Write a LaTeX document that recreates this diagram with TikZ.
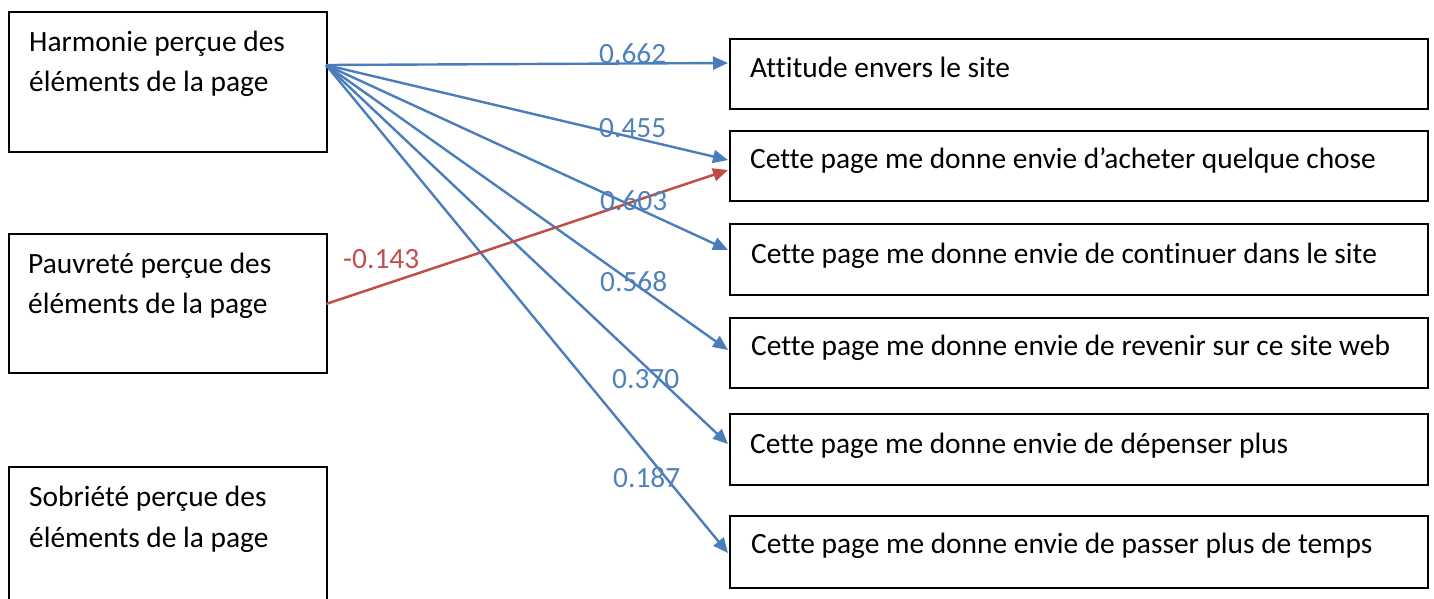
\documentclass[tikz,border=0pt]{standalone}
\usepackage{fontspec}
\setmainfont{Carlito}[Ligatures=NoCommon, Contextuals=NoAlternate, RawFeature={-liga,-clig,-calt}]
\usetikzlibrary{arrows.meta}
\definecolor{lblue}{HTML}{4A7EBB}
\definecolor{tblue}{HTML}{4F81BD}
\definecolor{lred}{HTML}{BE4B48}
\definecolor{tred}{HTML}{C0504D}
\tikzset{
  box/.style={draw=black, line width=2pt, anchor=north west, inner sep=0pt},
  txt/.style={anchor=base west, inner sep=0pt, font=\fontsize{29.4}{40}\selectfont},
  coef/.style={anchor=base west, inner sep=0pt, font=\fontsize{29.4}{40}\selectfont, text=tblue},
  link/.style={draw=lblue, line width=2.4pt, -{Triangle[length=15pt,width=13pt]}},
  rlink/.style={draw=lred, line width=2.4pt, -{Triangle[length=15pt,width=13pt]}},
}
\begin{document}
\begin{tikzpicture}[x=1pt,y=-1pt]
\useasboundingbox (0,0) rectangle (1434,598);
\begin{scope}
\clip (0,0) rectangle (1434,598);
% left boxes
\node[box, minimum width=318pt, minimum height=140pt] (h) at (8,11) {};
\node[box, minimum width=318pt, minimum height=139pt] (p) at (8,233) {};
\node[box, minimum width=318pt, minimum height=160pt] (s) at (8,466) {};
\end{scope}
\node[txt] (ht1) at (29,51) {Harmonie perçue des};
\node[txt] (ht2) at (29,91) {éléments de la page};
\node[txt] (pt1) at (28,273) {Pauvreté perçue des};
\node[txt] (pt2) at (28,313) {éléments de la page};
\node[txt] (st1) at (29,506) {Sobriété perçue des};
\node[txt] (st2) at (29,547) {éléments de la page};
% right boxes
\node[box, minimum width=698pt, minimum height=70pt] (r1) at (729,38) {};
\node[box, minimum width=698pt, minimum height=70pt] (r2) at (729,130) {};
\node[box, minimum width=698pt, minimum height=71pt] (r3) at (729,223) {};
\node[box, minimum width=698pt, minimum height=70pt] (r4) at (729,317) {};
\node[box, minimum width=698pt, minimum height=71pt] (r5) at (729,413) {};
\node[box, minimum width=698pt, minimum height=72pt] (r6) at (729,515) {};
\node[txt] (rt1) at (750,77) {Attitude envers le site};
\node[txt] (rt2) at (750,168) {Cette page me donne envie d’acheter quelque chose};
\node[txt] (rt3) at (751,263) {Cette page me donne envie de continuer dans le site};
\node[txt] (rt4) at (751,355) {Cette page me donne envie de revenir sur ce site web};
\node[txt] (rt5) at (750,453) {Cette page me donne envie de dépenser plus};
\node[txt] (rt6) at (751,553) {Cette page me donne envie de passer plus de temps};
% connector ends
\coordinate (hs) at (326,65);
\coordinate (ps) at (326,304);
\coordinate (e1) at (728,63);
\coordinate (e2) at (728,160);
\coordinate (e2r) at (728,170);
\coordinate (e3) at (728,250);
\coordinate (e4) at (728,350);
\coordinate (e5) at (728,444);
\coordinate (e6) at (728,553);
\draw[link] (hs) -- (e1);
\draw[link] (hs) -- (e2);
\draw[link] (hs) -- (e3);
\draw[link] (hs) -- (e4);
\draw[link] (hs) -- (e5);
\draw[link] (hs) -- (e6);
\draw[rlink] (ps) -- (e2r);
% coefficients
\node[coef] (c1) at (599,63) {0.662};
\node[coef] (c2) at (599,137) {0.455};
\node[coef] (c3) at (600,210) {0.603};
\node[coef] (c4) at (600,291) {0.568};
\node[coef] (c5) at (612,388) {0.370};
\node[coef] (c6) at (613,487) {0.187};
\node[coef, text=tred] (c7) at (343,268) {-0.143};
\end{tikzpicture}
\end{document}
